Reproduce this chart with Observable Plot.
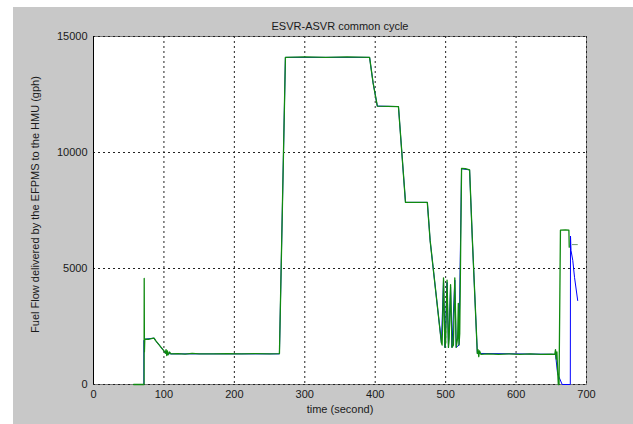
<!DOCTYPE html>
<html>
<head>
<meta charset="utf-8">
<script src="https://cdn.jsdelivr.net/npm/d3@7"></script>
<script src="https://cdn.jsdelivr.net/npm/@observablehq/plot@0.6"></script>
<style>
  html, body { margin: 0; padding: 0; background: #ffffff; }
  #fig { position: absolute; left: 13px; top: 7px; width: 620px; height: 417px; background: #c8c8c8; }
  #fig svg { display: block; }
</style>
</head>
<body>
<div id="fig"></div>
<script>
const title = "ESVR-ASVR common cycle";
const xLabel = "time (second)";
const yLabel = "Fuel Flow delivered by the EFPMS to the HMU (gph)";
const xTicks = [0, 100, 200, 300, 400, 500, 600, 700];
const yTicks = [0, 5000, 10000, 15000];

// Green series (time, fuel flow)
const greenT = [57, 71.8, 72, 72.3, 72.8, 78, 82, 86, 88, 92, 96, 100, 102, 103, 104, 105, 106, 108, 110, 120, 130, 140, 150, 170, 190, 210, 230, 250, 264,
  272.5, 300, 330, 360, 392, 397, 403, 433, 443, 474, 478, 494, 495,
  497, 499, 500, 502, 504, 505, 507, 509, 511, 513, 515, 517, 518, 519, 520, 522.6, 528, 534, 538, 545,
  546, 547, 548, 550, 560, 575, 590, 605, 620, 635, 650, 655, 656, 657, 658, 659, 660, 661, 663, 670, 675, 675.5];
const greenV = [0, 0, 4570, 1400, 1950, 1950, 1980, 2000, 1900, 1750, 1600, 1450, 1350, 1500, 1250, 1450, 1280, 1400, 1320, 1330, 1310, 1340, 1320, 1320, 1330, 1320, 1330, 1320, 1330,
  14100, 14120, 14100, 14120, 14100, 13000, 12000, 11980, 7850, 7850, 6200, 1800, 1700,
  4600, 1600, 1800, 4500, 1600, 2000, 4300, 1600, 1700, 4600, 1600, 2000, 3500, 1700, 2200, 9320, 9300, 9250, 6200, 1340,
  1500, 1200, 1450, 1300, 1320, 1300, 1320, 1300, 1320, 1300, 1310, 1300, 1500, 1100, 1400, 600, 0, 0, 6650, 6660, 6650, 5920];
const greenTailT = [680, 687];
const greenTailV = [6030, 6030];

// Blue series (time, fuel flow)
const blueT = [57, 71.5, 71.5, 72.8, 86, 88, 100, 102, 110, 264, 272.5, 392, 397, 403, 433, 443, 474, 478, 494, 497, 499, 502, 504, 507, 509, 513, 515, 519, 522.6, 534, 538, 545,
  656, 659, 665.5, 677, 677.3, 678, 680.5, 683, 687.5];
const blueV = [0, 0, 1900, 1950, 2000, 1900, 1450, 1350, 1320, 1320, 14100, 14100, 13000, 12000, 11980, 7850, 7850, 6200, 1800, 4500, 1600, 4400, 1600, 4200, 1600, 4500, 1600, 1700, 9300, 9250, 6200, 1340,
  1300, 460, 0, 0, 6400, 5780, 5350, 4620, 3620];

const green = greenT.map((t, i) => ({t, v: greenV[i]}));
const greenTail = greenTailT.map((t, i) => ({t, v: greenTailV[i]}));
const blue = blueT.map((t, i) => ({t, v: blueV[i]}));

const chart = Plot.plot({
  width: 620,
  height: 417,
  marginLeft: 80,
  marginRight: 47,
  marginTop: 29,
  marginBottom: 40,
  style: { background: "transparent", fontFamily: "'Liberation Sans', Arial, sans-serif", fontSize: "11px", color: "#1a1a1a" },
  x: { domain: [0, 700], ticks: xTicks, tickFormat: d => String(d), label: null },
  y: { domain: [0, 15000], ticks: yTicks, tickFormat: d => String(d), label: null },
  marks: [
    Plot.frame({ fill: "white", stroke: "#7a7a7a" }),
    Plot.gridX(xTicks, { stroke: "#222", strokeOpacity: 1, strokeDasharray: "2,3" }),
    Plot.gridY(yTicks, { stroke: "#222", strokeOpacity: 1, strokeDasharray: "2,3" }),
    Plot.ruleX([0], { stroke: "#000" }),
    Plot.line(blue, { x: "t", y: "v", stroke: "#0000ff", strokeWidth: 1 }),
    Plot.line(green, { x: "t", y: "v", stroke: "#108a10", strokeWidth: 1.3 }),
    Plot.line(greenTail, { x: "t", y: "v", stroke: "#6a9a6a", strokeWidth: 1 }),
    Plot.axisX({ ticks: xTicks, tickSize: 0, tickPadding: 6, tickFormat: d => String(d), label: null }),
    Plot.axisY({ ticks: yTicks, tickSize: 0, tickPadding: 6, tickFormat: d => String(d), label: null }),
    Plot.text([title], { frameAnchor: "top", dy: -14, fontSize: 11, fill: "#1a1a1a" }),
    Plot.text([xLabel], { frameAnchor: "bottom", dy: 28, fontSize: 11, fill: "#1a1a1a" }),
    Plot.text([yLabel], { frameAnchor: "left", textAnchor: "middle", dx: -58, dy: -6, rotate: -90, fontSize: 11, fill: "#1a1a1a" })
  ]
});
document.getElementById("fig").appendChild(chart);
</script>
</body>
</html>
